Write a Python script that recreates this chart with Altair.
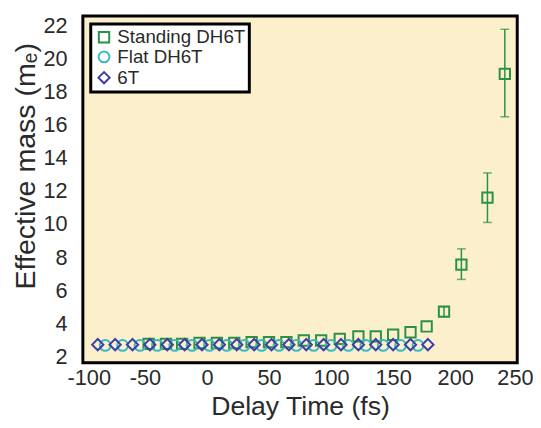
import altair as alt
import pandas as pd

# Standing DH6T (green squares)
standing_x = [-47, -33, -20, -6, 8, 22, 36, 50, 64, 78, 92, 107, 122, 136, 150, 164, 177, 191, 205, 226, 240]
standing_y = [2.75, 2.75, 2.75, 2.8, 2.8, 2.8, 2.85, 2.85, 2.85, 2.95, 2.95, 3.05, 3.2, 3.2, 3.3, 3.45, 3.8, 4.7, 7.55, 11.6, 19.1]
# error bars (only visible where larger than the marker)
err_x = [191, 205, 226, 240]
err_lo = [4.4, 6.65, 10.1, 16.5]
err_hi = [5.0, 8.5, 13.1, 21.8]

# Flat DH6T (cyan circles)
flat_x = [-82, -68, -54, -40, -26, -12, 2, 16, 30, 44, 58, 72, 86, 100, 114, 128, 142, 156, 170]
flat_y = [2.65] * 19

# 6T (blue diamonds)
t6_x = [-88, -74, -60, -46, -32, -18, -4, 10, 24, 38, 52, 66, 80, 94, 108, 122, 136, 150, 164, 178]
t6_y = [2.7] * 20

series = ["Standing DH6T", "Flat DH6T", "6T"]
colors = ["#2a9147", "#3cb8c0", "#3d3fa5"]
shapes = ["square", "circle", "diamond"]

x_ticks = [-100, -50, 0, 50, 100, 150, 200, 250]
y_ticks = [2, 4, 6, 8, 10, 12, 14, 16, 18, 20, 22]

rows = []
for x, y in zip(standing_x, standing_y):
    rows.append({"t": x, "m": y, "s": series[0]})
for x, y in zip(flat_x, flat_y):
    rows.append({"t": x, "m": y, "s": series[1]})
for x, y in zip(t6_x, t6_y):
    rows.append({"t": x, "m": y, "s": series[2]})
df = pd.DataFrame(rows)
err = pd.DataFrame({"t": err_x, "lo": err_lo, "hi": err_hi})

FONT = "Liberation Sans"
xscale = alt.Scale(domain=[-100, 250], nice=False, zero=False)
yscale = alt.Scale(domain=[1.6, 22.6], nice=False, zero=False)

xaxis = alt.Axis(values=x_ticks, title="Delay Time (fs)", grid=False, domain=False,
                 ticks=False, tickSize=0, labelFontSize=22, titleFontSize=27,
                 labelPadding=5, titlePadding=6, labelFont=FONT, titleFont=FONT,
                 labelColor="#2a2a2a", titleColor="#2a2a2a", titleFontWeight="normal",
                 labelFlush=True, labelFlushOffset=16, labelOverlap=False,
                 labelExpr="toString(datum.value)")
yaxis = alt.Axis(values=y_ticks, title="Effective mass (mₑ)", grid=False, domain=False,
                 ticks=False, tickSize=0, labelFontSize=22, titleFontSize=29,
                 labelPadding=16, titlePadding=3, labelFont=FONT, titleFont=FONT,
                 labelColor="#2a2a2a", titleColor="#2a2a2a", titleFontWeight="normal",
                 labelFlush=False, labelOverlap=False, titleY=152)

X = alt.X("t:Q", scale=xscale, axis=xaxis)

rules = alt.Chart(err).mark_rule(color=colors[0], strokeWidth=1.5).encode(
    x=X,
    y=alt.Y("lo:Q", scale=yscale, axis=yaxis),
    y2="hi:Q",
)
caps_lo = alt.Chart(err).mark_tick(color=colors[0], orient="horizontal", size=9, thickness=1.5).encode(
    x=X, y=alt.Y("lo:Q", scale=yscale, axis=yaxis))
caps_hi = alt.Chart(err).mark_tick(color=colors[0], orient="horizontal", size=9, thickness=1.5).encode(
    x=X, y=alt.Y("hi:Q", scale=yscale, axis=yaxis))

legend = alt.Legend(title=None, orient="none", legendX=8, legendY=8,
                    fillColor="white", strokeColor="black",
                    padding=4, rowPadding=0, labelFontSize=19, labelFont=FONT,
                    labelColor="#2a2a2a", symbolSize=90, symbolStrokeWidth=2,
                    symbolFillColor="transparent", labelOffset=4,
                    labelExpr="datum.label == '6T' ? '\u00a06T' : datum.label")

points = alt.Chart(df).mark_point(filled=False, strokeWidth=2, opacity=1).encode(
    x=X,
    y=alt.Y("m:Q", scale=yscale, axis=yaxis),
    color=alt.Color("s:N", scale=alt.Scale(domain=series, range=colors), legend=legend, sort=series),
    shape=alt.Shape("s:N", scale=alt.Scale(domain=series, range=shapes), legend=legend, sort=series),
    size=alt.Size("s:N", scale=alt.Scale(domain=series, range=[110, 130, 160]), legend=None),
)

chart = alt.layer(rules, caps_lo, caps_hi, points).properties(
    width=441, height=352,
    autosize=alt.AutoSizeParams(type="none"),
    padding={"left": 76, "top": 5, "right": 16, "bottom": 63},
    background="white",
).configure_view(fill="#fbf0cb", stroke="black", strokeWidth=3
).configure_legend(strokeWidth=3, cornerRadius=0)

chart.save("out.html", embed_options={"renderer": "svg", "actions": False})
